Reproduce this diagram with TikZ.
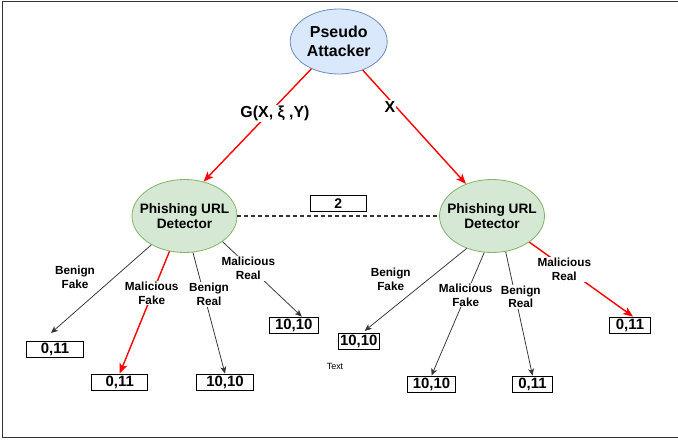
\documentclass[tikz,border=0pt]{standalone}
\usepackage{fontspec}
\setmainfont{Liberation Sans}
\usetikzlibrary{shapes.geometric,arrows.meta}
\definecolor{attfill}{HTML}{DAE8FC}
\definecolor{attdraw}{HTML}{6C8EBF}
\definecolor{detfill}{HTML}{D5E8D4}
\definecolor{detdraw}{HTML}{82B366}
\definecolor{redline}{HTML}{FF0000}
\definecolor{darkline}{HTML}{333333}
\tikzset{
  attacker/.style={ellipse, draw=attdraw, fill=attfill, line width=0.8bp, inner sep=0pt,
    minimum width=97bp, minimum height=65bp},
  detector/.style={ellipse, draw=detdraw, fill=detfill, line width=0.8bp, inner sep=0pt,
    minimum width=105bp, minimum height=73bp},
  atttext/.style={align=center, inner sep=0pt, font=\fontsize{16}{19}\selectfont\bfseries},
  dettext/.style={align=center, inner sep=0pt, font=\fontsize{13.7}{15.5}\selectfont\bfseries},
  payoff/.style={draw=black, line width=0.9bp, fill=white, inner sep=0pt,
    minimum height=16bp, font=\fontsize{15}{15}\selectfont\bfseries},
  branchlbl/.style={fill=white, inner sep=1bp, align=center,
    font=\fontsize{11.8}{14}\selectfont\bfseries},
  toplbl/.style={fill=white, inner sep=1bp, font=\fontsize{16}{16}\selectfont\bfseries},
  redarrow/.style={draw=redline, line width=1.4bp, -{Stealth[length=10bp,width=8bp,inset=2.5bp]}},
  blackarrow/.style={draw=darkline, line width=0.75bp, -{Stealth[length=7bp,width=6bp,inset=2bp]}},
  dashlink/.style={draw=darkline, line width=1.8bp, dash pattern=on 4bp off 3bp},
  frameline/.style={draw=darkline, line width=1bp}
}
\begin{document}
\begin{tikzpicture}[x=1bp, y=-1bp]
\useasboundingbox (0,0) rectangle (678,443);
\fill[white] (0,0) rectangle (678,443);
\coordinate (ftr) at (678,1.3);
\coordinate (ftl) at (2,1.3);
\coordinate (fbl) at (2,437.3);
\coordinate (fbr) at (678,437.3);
\draw[frameline] (ftr) -- (ftl) -- (fbl) -- (fbr);

% main nodes
\node[attacker] (pa) at (338.7,41.5) {};
\node[atttext] (pat) at (pa) {Pseudo\\Attacker};
\node[detector] (ld) at (184.5,216) {};
\node[dettext] (ldt) at (ld) {Phishing URL\\Detector};
\node[detector] (rd) at (492,216) {};
\node[dettext] (rdt) at (rd) {Phishing URL\\Detector};

% payoff boxes
\node[payoff, minimum width=56.6bp] (b1) at (55,349.5) {0,11};
\node[payoff, minimum width=56bp]   (b2) at (119.7,382) {0,11};
\node[payoff, minimum width=56.6bp] (b3) at (225,382) {10,10};
\node[payoff, minimum width=49bp]   (b4) at (293.8,325) {10,10};
\node[payoff, minimum width=40.7bp] (b5) at (358.7,341.3) {10,10};
\node[payoff, minimum width=48.4bp] (b6) at (431.5,384) {10,10};
\node[payoff, minimum width=40.4bp] (b7) at (532.5,384) {0,11};
\node[payoff, minimum width=41.4bp] (b8) at (630,325) {0,11};
\node[payoff, minimum width=56.5bp, minimum height=15.3bp, font=\fontsize{14}{14}\selectfont\bfseries] (two) at (338.3,203.5) {2};

\node[font=\fontsize{9}{9}\selectfont] (txt) at (335,366) {Text};

% arrow end points
\coordinate (e1) at ([shift={(-4,-8)}]b1.north);
\coordinate (e4) at ([shift={(8,0)}]b4.north);
\coordinate (e5) at ([shift={(6,-2)}]b5.north);
\coordinate (e8) at ([shift={(3,0)}]b8.north);

% connectors
\draw[redarrow] (pa.225.8) -- (ld.61);
\draw[redarrow] (pa.310.8) -- (rd.129.5);
\draw[dashlink] (ld.east) -- (rd.west);

\draw[blackarrow] (ld.221.5) -- (e1);
\draw[redarrow]   (ld.247.9) -- (b2.north);
\draw[blackarrow] (ld.283.5) -- (b3.north);
\draw[blackarrow] (ld.326.1) -- (e4);

\draw[blackarrow] (rd.232.2) -- (e5);
\draw[blackarrow] (rd.258.3) -- (b6.north);
\draw[blackarrow] (rd.291.4) -- (b7.north);
\draw[redarrow]   (rd.325.9) -- (e8);

% labels
\node[toplbl] (lg) at (275,113.3) {G(X, ξ ,Y)};
\node[toplbl] (lx) at (390,106.7) {X};

\node[branchlbl] (l1) at (75,277) {Benign\\Fake};
\node[branchlbl] (l2) at (151.7,293) {Malicious\\Fake};
\node[branchlbl] (l3) at (209,294.7) {Benign\\Real};
\node[branchlbl] (l4) at (248.3,268.5) {Malicious\\Real};

\node[branchlbl] (r1) at (390.7,279.5) {Benign\\Fake};
\node[branchlbl] (r2) at (465.7,295) {Malicious\\Fake};
\node[branchlbl] (r3) at (520.7,296.8) {Benign\\Real};
\node[branchlbl] (r4) at (564.3,269.5) {Malicious\\Real};
\end{tikzpicture}
\end{document}
